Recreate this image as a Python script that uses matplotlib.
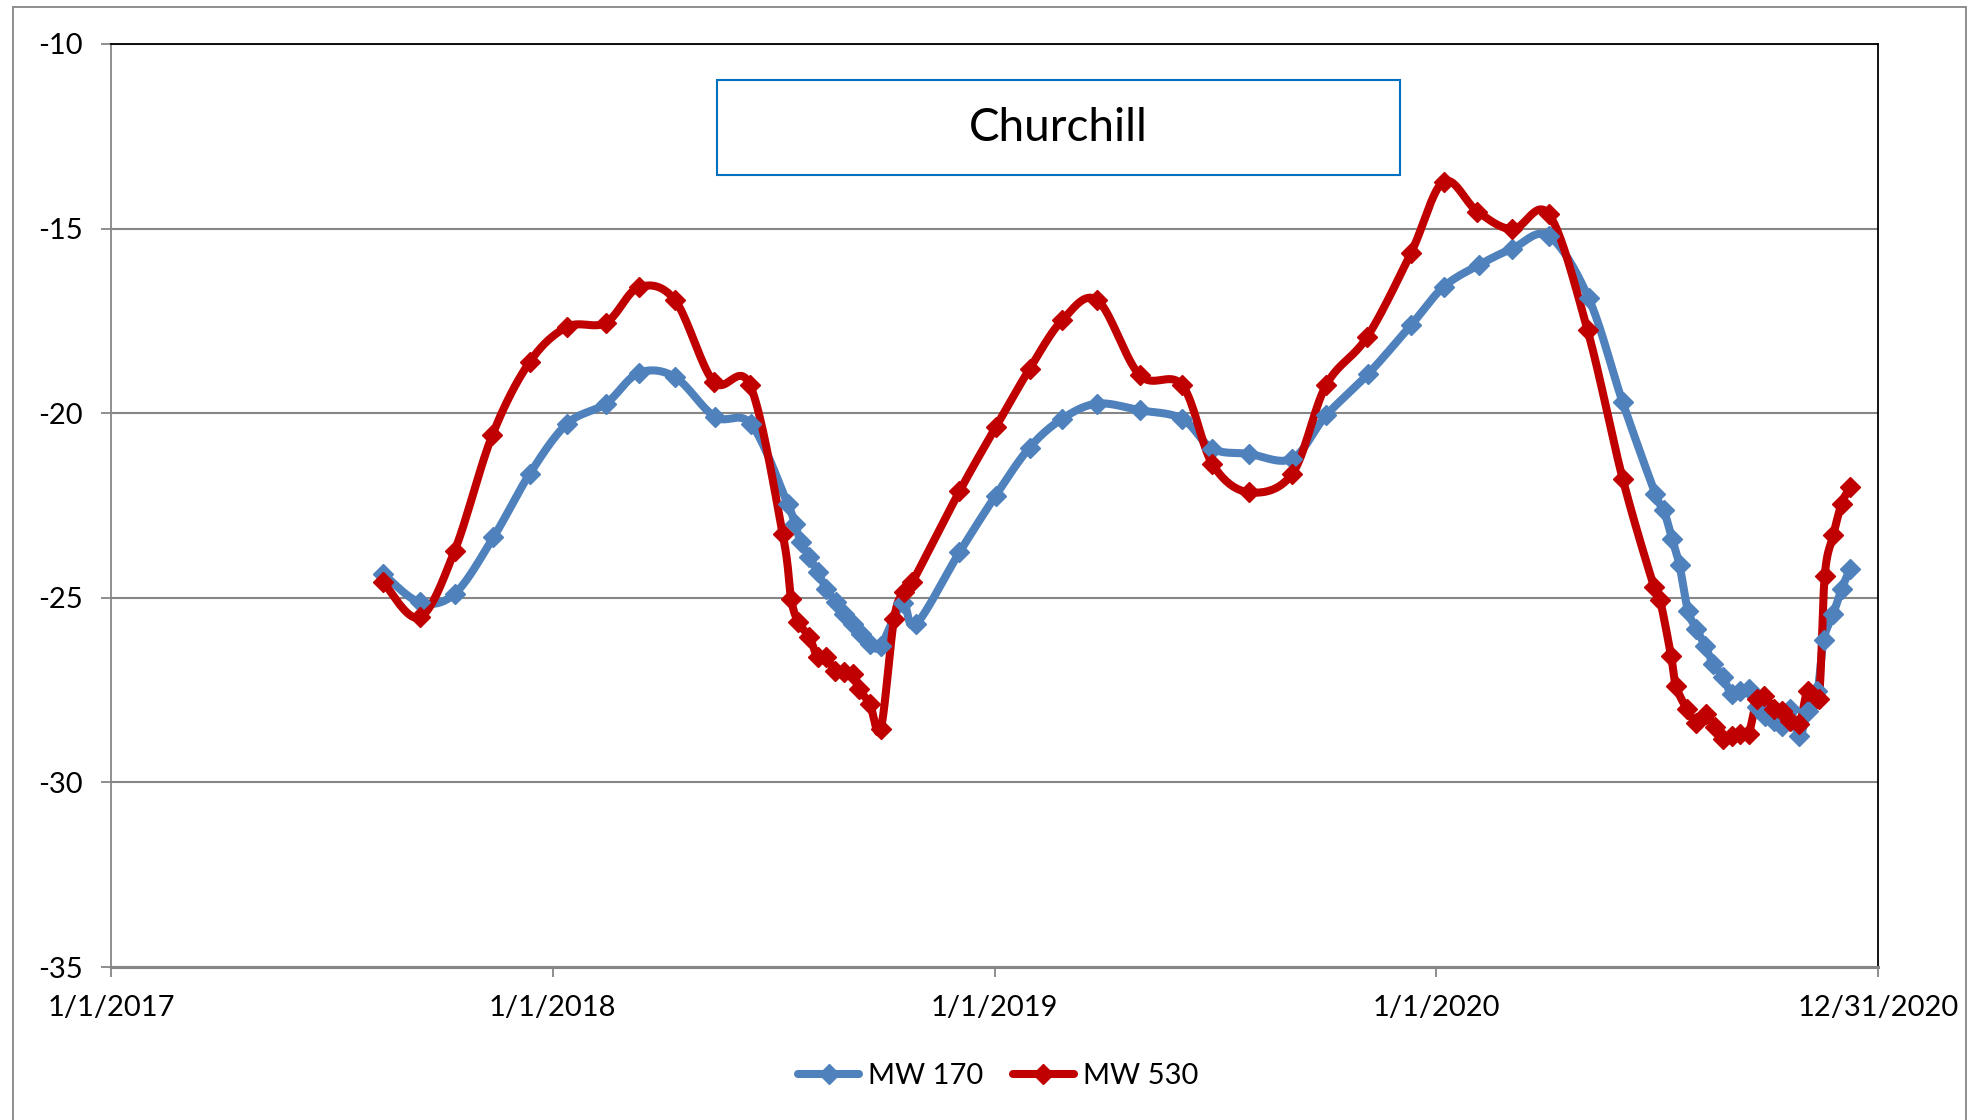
import numpy as np
import pandas as pd
import matplotlib
matplotlib.use("Agg")
import matplotlib.pyplot as plt
import matplotlib.dates as mdates
from matplotlib.patches import Rectangle
from matplotlib.lines import Line2D

plt.rcParams['font.family'] = ['Lato', 'DejaVu Sans']

# =========================
# data
# =========================
mw170_dates = [
    "2017-08-14", "2017-09-13", "2017-10-12", "2017-11-13", "2017-12-13",
    "2018-01-13", "2018-02-14", "2018-03-13", "2018-04-12", "2018-05-15",
    "2018-06-14", "2018-07-14", "2018-07-20", "2018-07-25", "2018-08-01",
    "2018-08-08", "2018-08-15", "2018-08-23", "2018-08-30", "2018-09-06",
    "2018-09-13", "2018-09-20", "2018-09-29", "2018-10-17", "2018-10-28",
    "2018-12-03", "2019-01-02", "2019-01-30", "2019-02-26", "2019-03-27",
    "2019-05-01", "2019-06-05", "2019-06-30", "2019-07-30", "2019-09-04",
    "2019-10-02", "2019-11-06", "2019-12-11", "2020-01-07", "2020-02-05",
    "2020-03-04", "2020-04-03", "2020-05-06", "2020-06-03", "2020-06-30",
    "2020-07-07", "2020-07-14", "2020-07-20", "2020-07-27", "2020-08-03",
    "2020-08-10", "2020-08-17", "2020-08-25", "2020-09-01", "2020-09-08",
    "2020-09-15", "2020-09-22", "2020-09-29", "2020-10-06", "2020-10-13",
    "2020-10-19", "2020-10-27", "2020-11-03", "2020-11-11", "2020-11-16",
    "2020-11-24", "2020-12-01", "2020-12-08",
]
mw170_values = [
    -24.35, -25.12, -24.89, -23.36, -21.64,
    -20.28, -19.74, -18.91, -19.02, -20.10,
    -20.30, -22.45, -23.00, -23.49, -23.90,
    -24.31, -24.76, -25.12, -25.44, -25.70,
    -25.98, -26.25, -26.30, -25.15, -25.72,
    -23.77, -22.23, -20.93, -20.15, -19.74,
    -19.92, -20.15, -20.96, -21.10, -21.23,
    -20.06, -18.93, -17.62, -16.58, -15.99,
    -15.54, -15.20, -16.89, -19.70, -22.18,
    -22.63, -23.42, -24.12, -25.35, -25.84,
    -26.30, -26.79, -27.15, -27.61, -27.52,
    -27.47, -27.97, -28.19, -28.33, -28.47,
    -28.01, -28.74, -28.06, -27.52, -26.14,
    -25.44, -24.76, -24.21,
]

mw530_dates = [
    "2017-08-14", "2017-09-13", "2017-10-12", "2017-11-12", "2017-12-13",
    "2018-01-13", "2018-02-14", "2018-03-13", "2018-04-12", "2018-05-14",
    "2018-06-13", "2018-07-10", "2018-07-17", "2018-07-23", "2018-08-01",
    "2018-08-08", "2018-08-15", "2018-08-22", "2018-08-30", "2018-09-06",
    "2018-09-11", "2018-09-20", "2018-09-29", "2018-10-10", "2018-10-18",
    "2018-10-25", "2018-12-03", "2019-01-02", "2019-01-30", "2019-02-26",
    "2019-03-27", "2019-05-01", "2019-06-05", "2019-06-30", "2019-07-30",
    "2019-09-04", "2019-10-02", "2019-11-05", "2019-12-11", "2020-01-07",
    "2020-02-04", "2020-03-04", "2020-04-03", "2020-05-05", "2020-06-03",
    "2020-06-29", "2020-07-04", "2020-07-13", "2020-07-17", "2020-07-26",
    "2020-08-03", "2020-08-11", "2020-08-18", "2020-08-25", "2020-09-01",
    "2020-09-08", "2020-09-15", "2020-09-22", "2020-09-28", "2020-10-06",
    "2020-10-13", "2020-10-19", "2020-10-27", "2020-11-03", "2020-11-12",
    "2020-11-17", "2020-11-24", "2020-12-01", "2020-12-08",
]
mw530_values = [
    -24.58, -25.53, -23.72, -20.60, -18.61,
    -17.66, -17.55, -16.59, -16.94, -19.15,
    -19.24, -23.27, -25.03, -25.66, -26.07,
    -26.61, -26.61, -26.97, -27.02, -27.06,
    -27.47, -27.88, -28.55, -25.57, -24.85,
    -24.58, -22.12, -20.38, -18.80, -17.48,
    -16.94, -18.97, -19.24, -21.37, -22.14,
    -21.64, -19.24, -17.93, -15.67, -13.73,
    -14.54, -15.02, -14.61, -17.75, -21.77,
    -24.71, -25.07, -26.57, -27.38, -28.01,
    -28.38, -28.15, -28.51, -28.83, -28.74,
    -28.69, -28.69, -27.74, -27.65, -28.01,
    -28.06, -28.33, -28.42, -27.52, -27.74,
    -24.40, -23.31, -22.45, -22.00,
]

series_names = ["MW 170", "MW 530"]
series_colors = ["#4F81BD", "#C00000"]
x_ticks = ["2017-01-01", "2018-01-01", "2019-01-01", "2020-01-01", "2020-12-31"]
x_tick_labels = ["1/1/2017", "1/1/2018", "1/1/2019", "1/1/2020", "12/31/2020"]
y_ticks = [-35, -30, -25, -20, -15, -10]
chart_title = "Churchill"


def smooth_curve(x, y, y_scale=30.0, n=20):
    """Excel-like smoothed line: Catmull-Rom spline in roughly screen-scaled space."""
    px = np.asarray(x, dtype=float)
    py = np.asarray(y, dtype=float) * y_scale
    pts = np.column_stack([px, py])
    pts = np.vstack([pts[0], pts, pts[-1]])
    out = []
    t = np.linspace(0, 1, n, endpoint=False)[:, None]
    for i in range(1, len(pts) - 2):
        p0, p1, p2, p3 = pts[i - 1], pts[i], pts[i + 1], pts[i + 2]
        c1 = p1 + (p2 - p0) / 6.0
        c2 = p2 - (p3 - p1) / 6.0
        seg = ((1 - t) ** 3) * p1 + 3 * ((1 - t) ** 2) * t * c1 \
            + 3 * (1 - t) * t ** 2 * c2 + t ** 3 * p2
        out.append(seg)
    out.append(pts[-2][None, :])
    out = np.vstack(out)
    return out[:, 0], out[:, 1] / y_scale


fig = plt.figure(figsize=(19.8, 11.2), dpi=100)
ax = fig.add_axes([111 / 1980, 1 - 967 / 1120, (1878 - 111) / 1980, (967 - 44) / 1120])

for dates, values, color in [(mw170_dates, mw170_values, series_colors[0]),
                             (mw530_dates, mw530_values, series_colors[1])]:
    xd = mdates.date2num(pd.to_datetime(dates))
    sx, sy = smooth_curve(xd, values)
    ax.plot(sx, sy, color=color, lw=5.8, solid_capstyle="round", zorder=3)
    ax.plot(xd, values, linestyle="none", marker="D", ms=10, color=color, zorder=4)

x_tick_nums = mdates.date2num(pd.to_datetime(x_ticks))
ax.set_xlim(x_tick_nums[0], x_tick_nums[-1])
ax.set_ylim(-35, -10)
ax.set_xticks(x_tick_nums)
ax.set_xticklabels(x_tick_labels)
ax.set_yticks(y_ticks)
ax.set_yticklabels([str(v) for v in y_ticks])

ax.grid(True, axis="y", color="#868686", lw=1.5, zorder=1)
ax.tick_params(axis="both", direction="out", length=7, width=1.3, color="#868686",
               labelsize=21, labelcolor="black")
ax.tick_params(axis="y", pad=13)
ax.tick_params(axis="x", pad=13)

ax.spines["top"].set_color("black")
ax.spines["right"].set_color("black")
ax.spines["top"].set_linewidth(1.3)
ax.spines["right"].set_linewidth(1.3)
ax.spines["left"].set_color("#868686")
ax.spines["left"].set_linewidth(1.3)
ax.spines["bottom"].set_color("#868686")
ax.spines["bottom"].set_linewidth(2.2)

# title box
fig.patches.append(Rectangle((717 / 1980, 1 - 175 / 1120), 683 / 1980, 95 / 1120,
                             transform=fig.transFigure, fill=False,
                             edgecolor="#0070C0", lw=1.5, zorder=5))
fig.text(1058 / 1980, 1 - 128 / 1120, chart_title, ha="center", va="center",
         fontsize=33, zorder=6)

# outer chart frame (bottom edge runs past the picture, as in the original)
fig.patches.append(Rectangle((13 / 1980, -10 / 1120), 1953 / 1980, 1123 / 1120,
                             transform=fig.transFigure, fill=False,
                             edgecolor="#868686", lw=1.3))

handles = [Line2D([0], [0], color=c, lw=5.8, marker="D", ms=10, solid_capstyle="round")
           for c in series_colors]
fig.legend(handles, series_names, loc="center", bbox_to_anchor=(998 / 1980, 1 - 1076 / 1120),
           ncol=2, frameon=False, fontsize=21, handlelength=2.1, columnspacing=1.0,
           handletextpad=0.3)

fig.savefig("out.png", dpi=100)
